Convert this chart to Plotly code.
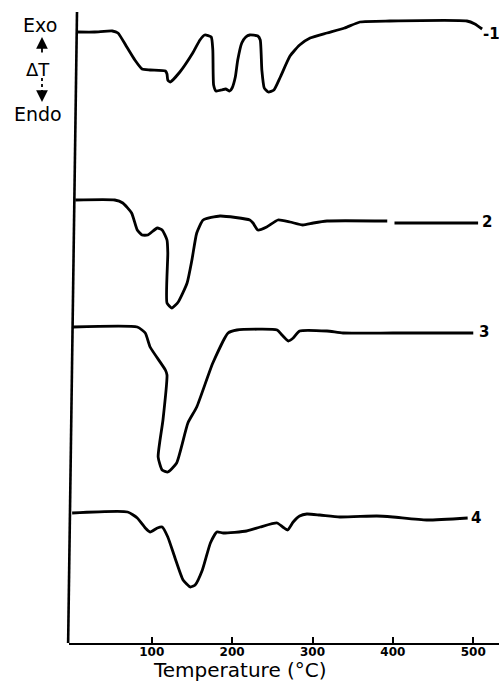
import plotly.graph_objects as go

# DTA curves: temperature (°C) and relative ΔT (arbitrary units, stacked)
t1 = [8, 29, 51, 58, 69, 79, 88, 98, 117, 119, 120, 123, 135, 151, 160, 166, 174, 176, 177, 180,
      187, 192, 197, 200, 204, 207, 212, 217, 222, 232, 235, 237, 240, 245, 252, 260, 272, 284,
      297, 318, 340, 359, 396, 492, 502, 511]
d1 = [611, 611, 612, 610, 596, 583, 574, 573, 572, 569, 563, 561, 571, 590, 603, 608, 606, 593, 558, 552,
      553, 554, 552, 555, 566, 583, 600, 606, 608, 607, 603, 573, 555, 551, 553, 566, 587, 598,
      605, 610, 615, 621, 622, 622, 619, 614]

t2 = [5, 54, 64, 75, 82, 88, 95, 107, 113, 119, 120, 119, 125, 133, 144, 150, 156, 164, 185, 222,
      226, 232, 243, 257, 272, 288, 301, 318, 393, None, 402, 506]
d2 = [443, 443, 440, 430, 413, 408, 408, 415, 413, 403, 390, 340, 335, 341, 360, 383, 410, 423, 427, 423,
      420, 413, 416, 423, 421, 418, 420, 422, 422, None, 420, 420]

t3 = [2, 82, 92, 98, 117, 119, 114, 108, 113, 120, 131, 145, 156, 176, 195, 206, 256, 262, 270, 276,
      284, 318, 338, 400, 500]
d3 = [316, 316, 310, 296, 273, 268, 223, 186, 173, 171, 180, 220, 236, 280, 310, 313, 313, 308, 302, 305,
      312, 312, 310, 310, 310]

t4 = [1, 70, 82, 92, 98, 107, 113, 120, 129, 139, 148, 154, 163, 173, 181, 189, 218, 235, 256, 263,
      269, 276, 284, 293, 309, 334, 380, 400, 442, 493]
d4 = [130, 131, 125, 115, 111, 115, 116, 106, 85, 63, 56, 58, 73, 100, 111, 110, 112, 116, 120, 116,
      113, 121, 127, 129, 128, 126, 127, 126, 123, 125]

curve_labels = ["-1", "2", "3", "4"]
label_t = [510, 517, 513, 503]
label_d = [609, 421, 311, 125]

tick_vals = [100, 200, 300, 400, 500]
tick_text = ["100", "200", "300", "400", "500"]

fig = go.Figure()
for t, d in [(t1, d1), (t2, d2), (t3, d3), (t4, d4)]:
    fig.add_trace(go.Scatter(x=t, y=d, mode="lines", connectgaps=False,
                             line=dict(color="black", width=2.8, shape="spline", smoothing=0.5),
                             hoverinfo="skip", showlegend=False))

for lab, lt, ld in zip(curve_labels, label_t, label_d):
    fig.add_annotation(x=lt, y=ld, xref="x", yref="y", text=lab, showarrow=False,
                       xanchor="left" if lab == "-1" else "center", yanchor="middle",
                       font=dict(family="DejaVu Sans", size=15, color="black", weight="bold"))

txt_font = dict(family="DejaVu Sans", size=19, color="black")
fig.add_annotation(x=-0.067, y=0.979, xref="paper", yref="paper", text="Exo", showarrow=False,
                   xanchor="center", yanchor="middle", font=txt_font)
fig.add_annotation(x=-0.072, y=0.909, xref="paper", yref="paper", text="ΔT", showarrow=False,
                   xanchor="center", yanchor="middle", font=dict(family="DejaVu Sans", size=18, color="black"))
fig.add_annotation(x=-0.072, y=0.838, xref="paper", yref="paper", text="Endo", showarrow=False,
                   xanchor="center", yanchor="middle", font=txt_font)
# up arrow (solid)
fig.add_annotation(x=-0.0628, y=0.9604, xref="paper", yref="paper", text="", showarrow=True,
                   ax=0, ay=17, arrowhead=2, arrowsize=1.3, arrowwidth=1.8, arrowcolor="black")
# down arrow (dotted shaft)
fig.add_shape(type="line", xref="paper", yref="paper", x0=-0.0628, x1=-0.0628, y0=0.8954, y1=0.872,
              line=dict(color="black", width=1.8, dash="dot"))
fig.add_annotation(x=-0.0628, y=0.8574, xref="paper", yref="paper", text="", showarrow=True,
                   ax=0, ay=-8, arrowhead=2, arrowsize=1.3, arrowwidth=1.8, arrowcolor="black")
# left (ordinate) axis line, slightly skewed as in the scanned figure
fig.add_shape(type="line", xref="paper", yref="paper", x0=0.0186, y0=1.0, x1=-0.002, y1=0.0,
              line=dict(color="black", width=2.6))

fig.add_annotation(x=0.3977, y=-0.0425, xref="paper", yref="paper", text="Temperature (°C)",
                   showarrow=False, xanchor="center", yanchor="middle",
                   font=dict(family="DejaVu Sans", size=20, color="black"))

fig.update_xaxes(range=[-2.9, 532], showline=True, linecolor="black", linewidth=2.4,
                 ticks="inside", ticklen=6, tickwidth=2, tickcolor="black",
                 tickvals=tick_vals, ticktext=tick_text, showgrid=False, zeroline=False,
                 ticklabelstandoff=-4,
                 tickfont=dict(family="DejaVu Sans", size=12, color="black", weight="bold"))
fig.update_yaxes(range=[0, 631], showline=False, showticklabels=False, ticks="",
                 showgrid=False, zeroline=False)
fig.update_layout(width=499, height=688, margin=dict(l=69, r=0, t=12, b=45),
                  plot_bgcolor="white", paper_bgcolor="white")
fig.write_html("out.html")
